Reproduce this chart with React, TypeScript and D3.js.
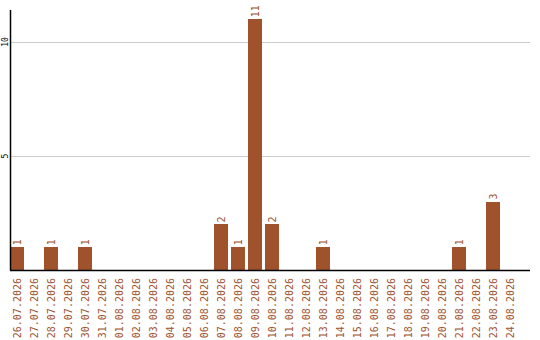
import React from "react";
import * as d3 from "d3";

const dates = [
  "26.07.2026", "27.07.2026", "28.07.2026", "29.07.2026", "30.07.2026", "31.07.2026",
  "01.08.2026", "02.08.2026", "03.08.2026", "04.08.2026", "05.08.2026", "06.08.2026",
  "07.08.2026", "08.08.2026", "09.08.2026", "10.08.2026", "11.08.2026", "12.08.2026",
  "13.08.2026", "14.08.2026", "15.08.2026", "16.08.2026", "17.08.2026", "18.08.2026",
  "19.08.2026", "20.08.2026", "21.08.2026", "22.08.2026", "23.08.2026", "24.08.2026",
];
const counts = [1, 0, 1, 0, 1, 0, 0, 0, 0, 0, 0, 0, 2, 1, 11, 2, 0, 0, 1, 0, 0, 0, 0, 0, 0, 0, 1, 0, 3, 0];
const yTicks = [5, 10];

const W = 540;
const H = 340;
const left = 10;
const plotRight = 520;
const axisRight = 530;
const top = 10;
const bottom = 270;
const color = "#a0522d";
const mono = "'DejaVu Sans Mono', monospace";

export default function App() {
  // each day gets a 17px slot; the bar fills the first 14px of it
  const x = d3.scaleBand<string>().domain(dates).range([left, plotRight]).padding(0);
  const bw = 14;
  const y = d3.scaleLinear().domain([0, 5]).range([bottom, bottom - 114]);

  return (
    <svg width={W} height={H} style={{ position: "absolute", left: 0, top: 0, background: "#fff" }}>
      {yTicks.map((t) => (
        <g key={t}>
          <line x1={left + 1} x2={axisRight} y1={y(t)} y2={y(t)} stroke="#cccccc" strokeWidth={1} shapeRendering="crispEdges" />
          <text
            transform={`translate(8,${y(t)}) rotate(-90)`}
            textAnchor="middle"
            fontFamily={mono}
            fontSize={8}
            fill="#000"
          >
            {t}
          </text>
        </g>
      ))}
      {dates.map((d, i) => {
        const bx = x(d) as number;
        const cx = bx + bw / 2;
        const v = counts[i];
        return (
          <g key={d}>
            {v > 0 && (
              <>
                <rect x={bx} y={y(v)} width={bw} height={bottom - y(v)} fill={color} shapeRendering="crispEdges" />
                <text
                  transform={`translate(${cx + 3.5},${y(v) - 2}) rotate(-90)`}
                  textAnchor="start"
                  fontFamily={mono}
                  fontSize={10}
                  fill={color}
                >
                  {v}
                </text>
              </>
            )}
            <text
              transform={`translate(${cx + 3.5},278) rotate(-90)`}
              textAnchor="end"
              fontFamily={mono}
              fontSize={10}
              fill={color}
            >
              {d}
            </text>
          </g>
        );
      })}
      <line x1={left + 0.5} x2={left + 0.5} y1={top} y2={bottom} stroke="#000" strokeWidth={1.5} />
      <line x1={left} x2={axisRight} y1={bottom + 0.5} y2={bottom + 0.5} stroke="#000" strokeWidth={1.5} />
    </svg>
  );
}
